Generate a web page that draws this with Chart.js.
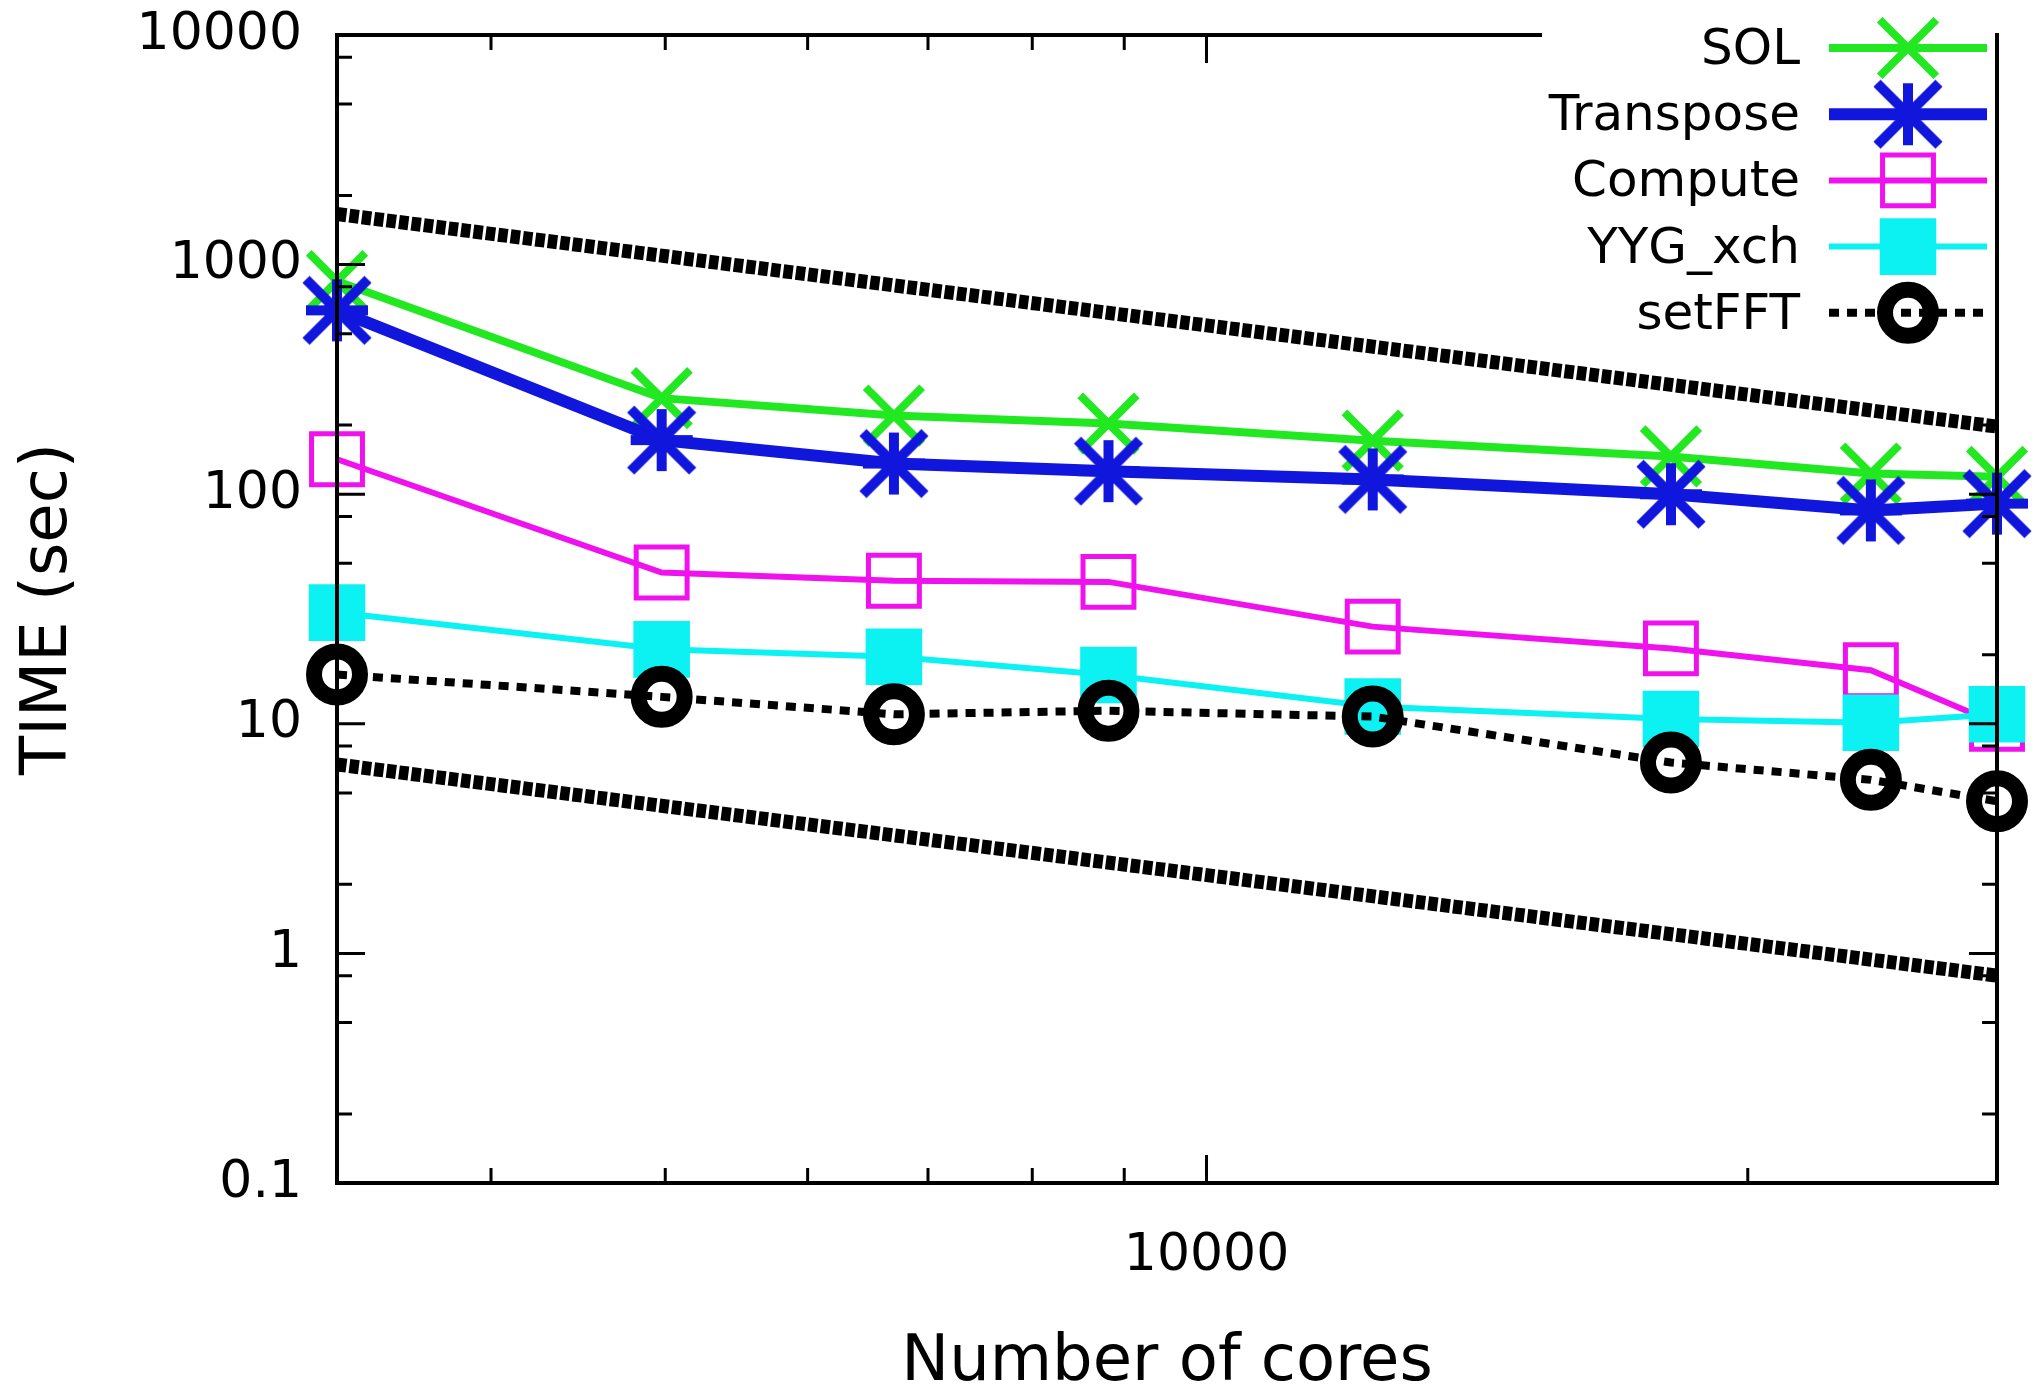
<!DOCTYPE html>
<html><head><meta charset="utf-8">
<script src="https://cdn.jsdelivr.net/npm/chart.js@4.4.1/dist/chart.umd.min.js"></script>
<style>html,body{margin:0;padding:0;background:#fff;}canvas{display:block;}</style>
</head><body>
<canvas id="c" width="2032" height="1392"></canvas>
<script>
// ---- data ----
const cores = [3284, 4977, 6701, 8820, 12372, 18126, 23415, 27520];
const solTime = [847, 262, 220, 203, 171, 146, 123, 119];
const transposeTime = [632, 172, 136, 126, 116, 100, 85, 91];
const computeTime = [142, 45.6, 42, 41.5, 26.5, 21.3, 17.1, 10.0];
const yygXchTime = [30.5, 21.1, 19.6, 16.3, 11.9, 10.5, 10.1, 11.0];
const setFFTTime = [16.4, 13.1, 11.0, 11.4, 10.75, 6.78, 5.7, 4.6];
const idealCores = [3284, 27520];
const idealUpper = [1660, 197];
const idealLower = [6.65, 0.80];
const seriesNames = ['SOL', 'Transpose', 'Compute', 'YYG_xch', 'setFFT'];
const xTickValues = [4000, 5000, 6000, 7000, 8000, 9000, 10000, 20000];
const xTickLabels = ['10000'];
const yMajorTicks = [0.1, 1, 10, 100, 1000, 10000];
const yMinorFactors = [2, 5, 8];
const xAxisTitle = 'Number of cores';
const yAxisTitle = 'TIME (sec)';

const FONT = 'DejaVu Sans';
const GREEN = '#22e822', BLUE = '#1016dc', MAGENTA = '#f012ee', CYAN = '#0cf2f2', BLACK = '#000000';

function pts(xs, ys) { return xs.map((x, i) => ({x: x, y: ys[i]})); }
function isMajor(v) { const l = Math.log10(v); return Math.abs(l - Math.round(l)) < 1e-9; }

function makeAsterisk(color, half, lw) {
  const s = Math.ceil(2 * half + lw + 2);
  const cv = document.createElement('canvas');
  cv.width = s; cv.height = s;
  const g = cv.getContext('2d');
  const c = s / 2;
  g.strokeStyle = color; g.lineWidth = lw; g.lineCap = 'butt';
  g.beginPath();
  g.moveTo(c, c - half); g.lineTo(c, c + half);
  g.moveTo(c - half, c); g.lineTo(c + half, c);
  g.moveTo(c - half, c - half); g.lineTo(c + half, c + half);
  g.moveTo(c + half, c - half); g.lineTo(c - half, c + half);
  g.stroke();
  return cv;
}
const asterisk = makeAsterisk(BLUE, 31, 10);

const yTickValues = [];
yMajorTicks.forEach((m, i) => {
  yTickValues.push(m);
  if (i < yMajorTicks.length - 1) yMinorFactors.forEach(f => yTickValues.push(m * f));
});
yTickValues.sort((a, b) => a - b);

const LEGEND = {left: 1542, bottom: 345, textRight: 1800, lineL: 1829, lineR: 1987, mark: 1908, row0: 48, rowStep: 66.2};

const datasets = [
  {label: seriesNames[0], data: pts(cores, solTime), borderColor: GREEN, backgroundColor: GREEN, borderWidth: 8,
   pointStyle: 'crossRot', pointRadius: 40, pointBorderWidth: 8, pointBorderColor: GREEN, order: 5, inLegend: true},
  {label: seriesNames[1], data: pts(cores, transposeTime), borderColor: BLUE, backgroundColor: BLUE, borderWidth: 12,
   pointStyle: asterisk, pointRadius: 31, pointBorderWidth: 0, order: 4, inLegend: true},
  {label: seriesNames[2], data: pts(cores, computeTime), borderColor: MAGENTA, backgroundColor: 'rgba(0,0,0,0)', borderWidth: 6,
   pointStyle: 'rect', pointRadius: 36, pointBorderWidth: 5, pointBorderColor: MAGENTA, pointBackgroundColor: 'rgba(0,0,0,0)', order: 3, inLegend: true},
  {label: seriesNames[3], data: pts(cores, yygXchTime), borderColor: CYAN, backgroundColor: CYAN, borderWidth: 6,
   pointStyle: 'rect', pointRadius: 40, pointBorderWidth: 0, pointBackgroundColor: CYAN, order: 2, inLegend: true},
  {label: seriesNames[4], data: pts(cores, setFFTTime), borderColor: BLACK, backgroundColor: 'rgba(0,0,0,0)', borderWidth: 8,
   borderDash: [10, 8], pointStyle: 'circle', pointRadius: 23, pointBorderWidth: 16, pointBorderColor: BLACK,
   pointBackgroundColor: 'rgba(0,0,0,0)', order: 1, inLegend: true},
  {label: 'ideal-upper', data: pts(idealCores, idealUpper), borderColor: BLACK, borderWidth: 14, borderDash: [9.5, 3],
   pointRadius: 0, order: 6},
  {label: 'ideal-lower', data: pts(idealCores, idealLower), borderColor: BLACK, borderWidth: 14, borderDash: [9.5, 3],
   pointRadius: 0, order: 6}
];
datasets.forEach(d => { d.showLine = true; d.tension = 0; d.clip = false; d.borderCapStyle = 'butt'; d.pointHoverRadius = d.pointRadius; });

const framePlugin = {
  id: 'frame',
  afterDatasetsDraw(chart) {
    const {ctx, chartArea: a, scales} = chart;
    const x = scales.x, y = scales.y;
    ctx.save();
    ctx.strokeStyle = '#000';
    ctx.lineCap = 'butt';
    ctx.setLineDash([]);
    ctx.lineWidth = 3;
    ctx.beginPath();
    x.ticks.forEach(t => {
      const px = x.getPixelForValue(t.value);
      const L = isMajor(t.value) ? 28 : 15;
      ctx.moveTo(px, a.bottom); ctx.lineTo(px, a.bottom - L);
      if (px < LEGEND.left) { ctx.moveTo(px, a.top); ctx.lineTo(px, a.top + L); }
    });
    y.ticks.forEach(t => {
      const py = y.getPixelForValue(t.value);
      const L = isMajor(t.value) ? 28 : 15;
      ctx.moveTo(a.left, py); ctx.lineTo(a.left + L, py);
      if (py > LEGEND.bottom) { ctx.moveTo(a.right, py); ctx.lineTo(a.right - L, py); }
    });
    ctx.stroke();
    ctx.lineWidth = 4;
    ctx.beginPath();
    ctx.moveTo(LEGEND.left, a.top); ctx.lineTo(a.left, a.top); ctx.lineTo(a.left, a.bottom);
    ctx.lineTo(a.right, a.bottom); ctx.lineTo(a.right, a.top - 2);
    ctx.stroke();
    ctx.restore();
  }
};

const legendPlugin = {
  id: 'gpLegend',
  afterDraw(chart) {
    const ctx = chart.ctx;
    ctx.save();
    chart.data.datasets.forEach((d, i) => {
      if (!d.inLegend) return;
      const ry = LEGEND.row0 + LEGEND.rowStep * i;
      ctx.font = '50px "' + FONT + '"';
      ctx.fillStyle = '#000';
      ctx.textAlign = 'right';
      ctx.textBaseline = 'alphabetic';
      ctx.fillText(d.label, LEGEND.textRight, ry + 16);
      ctx.strokeStyle = d.borderColor;
      ctx.lineWidth = d.borderWidth;
      ctx.lineCap = 'butt';
      ctx.setLineDash(d.borderDash || []);
      ctx.beginPath();
      ctx.moveTo(LEGEND.lineL, ry); ctx.lineTo(LEGEND.lineR, ry);
      ctx.stroke();
      ctx.setLineDash([]);
      ctx.strokeStyle = d.pointBorderColor || d.borderColor;
      ctx.fillStyle = d.pointBackgroundColor || d.backgroundColor || d.borderColor;
      ctx.lineWidth = d.pointBorderWidth;
      Chart.helpers.drawPoint(ctx, {pointStyle: d.pointStyle, radius: d.pointRadius, borderWidth: d.pointBorderWidth, rotation: 0}, LEGEND.mark, ry);
    });
    ctx.restore();
  }
};

function zeroPad(scale) { scale.paddingLeft = 0; scale.paddingRight = 0; scale.paddingTop = 0; scale.paddingBottom = 0; }

new Chart(document.getElementById('c'), {
  type: 'scatter',
  data: {datasets: datasets},
  options: {
    responsive: false,
    devicePixelRatio: 1,
    animation: false,
    events: [],
    layout: {autoPadding: false, padding: {left: 0, right: 35, top: 35, bottom: 0}},
    plugins: {legend: {display: false}, tooltip: {enabled: false}, title: {display: false}},
    scales: {
      x: {
        type: 'logarithmic',
        min: cores[0], max: cores[cores.length - 1],
        grid: {display: false, drawTicks: false},
        border: {display: false},
        afterBuildTicks(scale) { scale.ticks = xTickValues.map(v => ({value: v, major: isMajor(v)})); },
        afterFit(scale) { scale.height = 209; zeroPad(scale); },
        ticks: {
          autoSkip: false, maxRotation: 0, minRotation: 0, padding: 42, color: '#000',
          font: {family: FONT, size: 52},
          callback(v) { const s = String(v); return xTickLabels.indexOf(s) >= 0 ? s : ''; }
        },
        title: {display: true, text: xAxisTitle, color: '#000', font: {family: FONT, size: 64, lineHeight: 0.9}, padding: {top: 0, bottom: 0}}
      },
      y: {
        type: 'logarithmic',
        min: yMajorTicks[0], max: yMajorTicks[yMajorTicks.length - 1],
        grid: {display: false, drawTicks: false},
        border: {display: false},
        afterBuildTicks(scale) { scale.ticks = yTickValues.map(v => ({value: v, major: isMajor(v)})); },
        afterFit(scale) { scale.width = 337; zeroPad(scale); },
        ticks: {
          autoSkip: false, padding: 35, color: '#000',
          font: {family: FONT, size: 52},
          callback(v) { return isMajor(v) ? String(v) : ''; }
        },
        title: {display: true, text: yAxisTitle, color: '#000', font: {family: FONT, size: 64, lineHeight: 1}, padding: {top: 17, bottom: 0}}
      }
    }
  },
  plugins: [framePlugin, legendPlugin]
});
</script>
</body></html>
